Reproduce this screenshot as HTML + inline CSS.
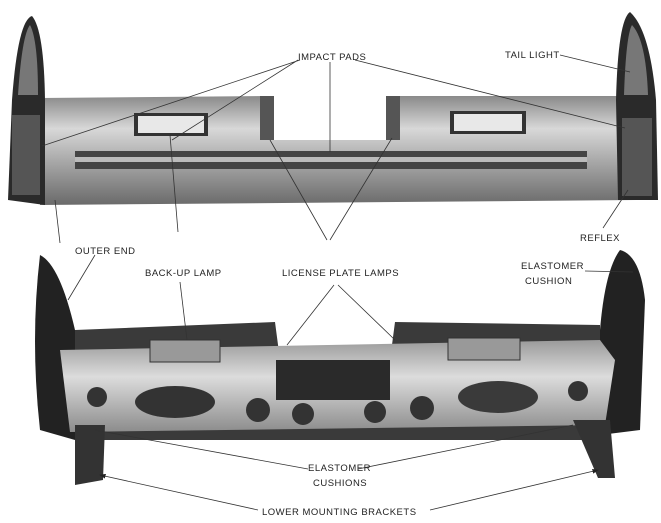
<!DOCTYPE html>
<html><head><style>
html,body{margin:0;padding:0;background:#fff;}
svg{display:block}
text{font-family:"Liberation Sans",sans-serif;font-size:9.5px;fill:#222;letter-spacing:0.5px}
</style></head><body>
<svg width="661" height="523" viewBox="0 0 661 523" xmlns="http://www.w3.org/2000/svg">
<defs>
<linearGradient id="bump" x1="0" y1="0" x2="0" y2="1">
<stop offset="0" stop-color="#8a8a8a"/><stop offset="0.3" stop-color="#d8d8d8"/><stop offset="0.6" stop-color="#a8a8a8"/><stop offset="1" stop-color="#6a6a6a"/></linearGradient>
<linearGradient id="frame" x1="0" y1="0" x2="0" y2="1">
<stop offset="0" stop-color="#9a9a9a"/><stop offset="0.4" stop-color="#dcdcdc"/><stop offset="1" stop-color="#8c8c8c"/></linearGradient>
<marker id="ar" markerWidth="8" markerHeight="6" refX="7" refY="3" orient="auto"><path d="M0 0 L8 3 L0 6 Z" fill="#222"/></marker>
</defs>
<rect width="661" height="523" fill="#fff"/>
<path d="M40 98 L270 96 L272 140 L388 140 L390 96 L625 96 L640 100 L640 200 L40 205 Z" fill="url(#bump)"/>
<rect x="260" y="96" width="14" height="44" fill="#555"/>
<rect x="386" y="96" width="14" height="44" fill="#555"/>
<rect x="134" y="113" width="74" height="23" fill="#333"/><rect x="138" y="116" width="66" height="17" fill="#e8e8e8"/>
<rect x="450" y="111" width="76" height="23" fill="#333"/><rect x="454" y="114" width="68" height="17" fill="#e8e8e8"/>
<rect x="75" y="151" width="512" height="6" fill="#444"/>
<rect x="75" y="162" width="512" height="7" fill="#444"/>
<rect x="75" y="157" width="512" height="5" fill="#bbb"/>
<path d="M12 100 Q18 20 32 16 Q44 30 45 100 L45 205 L8 200 Z" fill="#2a2a2a"/>
<path d="M18 95 Q22 35 30 25 Q38 40 38 95 Z" fill="#777"/>
<rect x="12" y="115" width="28" height="80" fill="#555"/>
<path d="M616 100 Q618 20 630 12 Q650 30 656 100 L658 200 L618 200 Z" fill="#2a2a2a"/>
<path d="M624 95 Q626 35 632 25 Q646 40 648 95 Z" fill="#777"/>
<rect x="622" y="118" width="30" height="78" fill="#555"/>
<path d="M40 255 Q60 265 75 330 L75 440 L40 430 Q30 340 40 255 Z" fill="#222"/>
<path d="M620 250 Q640 255 645 300 L640 430 L600 435 L600 330 Q605 270 620 250 Z" fill="#222"/>
<path d="M75 330 L275 322 L280 360 L390 360 L395 322 L600 325 L600 440 L75 440 Z" fill="#3a3a3a"/>
<path d="M60 350 L600 340 L615 360 L605 425 L70 432 Z" fill="url(#frame)"/>
<rect x="276" y="360" width="114" height="40" fill="#2a2a2a"/>
<rect x="150" y="340" width="70" height="22" fill="#999" stroke="#333"/>
<rect x="448" y="338" width="72" height="22" fill="#999" stroke="#333"/>
<ellipse cx="175" cy="402" rx="40" ry="16" fill="#333"/>
<ellipse cx="498" cy="397" rx="40" ry="16" fill="#3a3a3a"/>
<circle cx="258" cy="410" r="12" fill="#333"/><circle cx="303" cy="414" r="11" fill="#333"/>
<circle cx="375" cy="412" r="11" fill="#333"/><circle cx="422" cy="408" r="12" fill="#333"/>
<circle cx="97" cy="397" r="10" fill="#333"/><circle cx="578" cy="391" r="10" fill="#333"/>
<path d="M75 425 L105 425 L103 480 L75 485 Z" fill="#333"/>
<path d="M573 420 L610 420 L615 478 L598 478 Z" fill="#333"/>
<g stroke="#333" stroke-width="0.8" fill="none">
<path d="M300 60 L42 146 M330 62 L330 152 M355 60 L625 128 M298 60 L172 140"/>
<path d="M560 55 L630 72"/>
<path d="M603 228 L628 190"/>
<path d="M95 255 L68 300 M60 243 L55 200"/>
<path d="M178 232 L170 135"/>
<path d="M180 282 L187 340"/>
<path d="M330 240 L392 138 M327 240 L270 140"/>
<path d="M334 285 L287 345 M338 285 L395 340"/>
<path d="M585 271 L633 272"/>
<path d="M308 469 L95 430 M358 469 L573 425"/>
<path d="M258 510 L100 475" marker-end="url(#ar)"/>
<path d="M430 510 L598 470" marker-end="url(#ar)"/>
</g>
<text x="298" y="60">IMPACT PADS</text>
<text x="505" y="58">TAIL LIGHT</text>
<text x="580" y="241">REFLEX</text>
<text x="75" y="254">OUTER END</text>
<text x="145" y="276">BACK-UP LAMP</text>
<text x="282" y="276">LICENSE PLATE LAMPS</text>
<text x="521" y="269">ELASTOMER</text>
<text x="525" y="284">CUSHION</text>
<text x="308" y="471">ELASTOMER</text>
<text x="313" y="486">CUSHIONS</text>
<text x="262" y="515">LOWER MOUNTING BRACKETS</text>
</svg>
</body></html>
